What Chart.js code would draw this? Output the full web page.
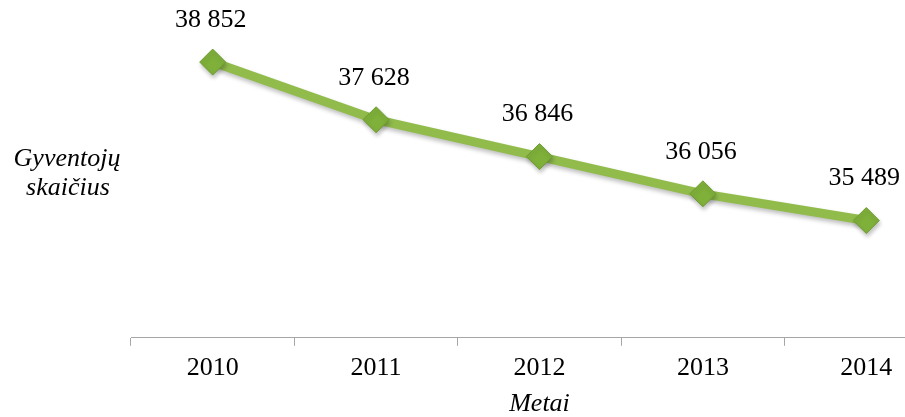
<!DOCTYPE html>
<html>
<head>
<meta charset="utf-8">
<script src="https://cdn.jsdelivr.net/npm/chart.js@4"></script>
<style>
  html, body { margin: 0; padding: 0; background: #fff; overflow: hidden; }
  #wrap { width: 905px; height: 417px; overflow: hidden; }
</style>
</head>
<body>
<div id="wrap"><canvas id="chart" width="950" height="417"></canvas></div>
<script>
const years = ['2010', '2011', '2012', '2013', '2014'];
const population = [38852, 37628, 36846, 36056, 35489];
const yTitleLines = ['Gyventojų', 'skaičius'];
const xTitle = 'Metai';

const serif = '"Liberation Serif", "Times New Roman", serif';

// thousands with a space, e.g. 38 852
const fmt = v => String(v).replace(/\B(?=(\d{3})+(?!\d))/g, ' ');

const valueLabels = {
  id: 'valueLabels',
  afterDatasetsDraw(chart) {
    const ctx = chart.ctx;
    const meta = chart.getDatasetMeta(0);
    ctx.save();
    ctx.font = '26px ' + serif;
    ctx.fillStyle = '#000';
    ctx.textAlign = 'center';
    ctx.textBaseline = 'middle';
    meta.data.forEach((pt, i) => {
      ctx.fillText(fmt(population[i]), pt.x - 2, pt.y - 42);
    });
    ctx.restore();
  }
};

const sideTitle = {
  id: 'sideTitle',
  afterDraw(chart) {
    const ctx = chart.ctx;
    ctx.save();
    ctx.font = 'italic 26px ' + serif;
    ctx.fillStyle = '#000';
    ctx.textAlign = 'center';
    ctx.textBaseline = 'middle';
    ctx.fillText(yTitleLines[0], 67, 159);
    ctx.fillText(yTitleLines[1], 68, 188);
    ctx.restore();
  }
};

const shadow = {
  id: 'shadow',
  beforeDatasetDraw(chart) {
    const ctx = chart.ctx;
    ctx.save();
    ctx.shadowColor = 'rgba(0,0,0,0.25)';
    ctx.shadowBlur = 4;
    ctx.shadowOffsetX = 1;
    ctx.shadowOffsetY = 3;
  },
  afterDatasetDraw(chart) {
    chart.ctx.restore();
  }
};

new Chart(document.getElementById('chart'), {
  type: 'line',
  data: {
    labels: years,
    datasets: [{
      data: population,
      borderColor: '#91bc4c',
      borderWidth: 9,
      pointStyle: 'rectRot',
      pointRadius: 13,
      pointHoverRadius: 13,
      pointBackgroundColor: '#7fb03a',
      pointBorderColor: '#6f9c30',
      pointBorderWidth: 1,
      tension: 0
    }]
  },
  options: {
    responsive: false,
    animation: false,
    events: [],
    layout: { autoPadding: false, padding: { left: 131, right: 2, top: 8, bottom: 0 } },
    plugins: {
      legend: { display: false },
      tooltip: { enabled: false }
    },
    scales: {
      x: {
        offset: true,
        grid: {
          offset: true,
          drawOnChartArea: false,
          tickLength: 8,
          color: '#a6a6a6',
          lineWidth: 1
        },
        border: { color: '#a6a6a6', width: 1 },
        ticks: {
          color: '#000',
          padding: 7,
          font: { family: serif, size: 26 }
        },
        title: {
          display: true,
          text: xTitle,
          color: '#000',
          padding: { top: 0, bottom: 0 },
          font: { family: serif, size: 26, style: 'italic', lineHeight: 1 }
        }
      },
      y: {
        display: false,
        min: 33000,
        max: 40000
      }
    }
  },
  plugins: [shadow, valueLabels, sideTitle]
});
</script>
</body>
</html>
